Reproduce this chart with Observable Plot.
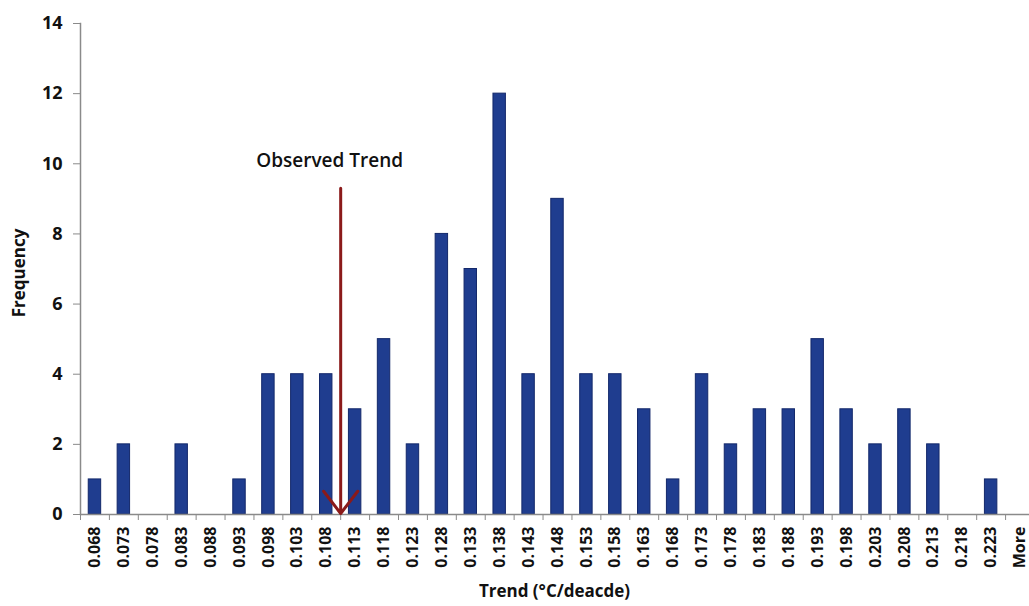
<!DOCTYPE html>
<html>
<head>
<meta charset="utf-8">
<script src="https://cdn.jsdelivr.net/npm/d3@7"></script>
<script src="https://cdn.jsdelivr.net/npm/@observablehq/plot@0.6"></script>
<style>
  html, body { margin: 0; padding: 0; background: #fff; overflow: hidden; }
  svg { display: block; }
</style>
</head>
<body>
<div id="chart"></div>
<script>
const categories = ["0.068","0.073","0.078","0.083","0.088","0.093","0.098","0.103","0.108","0.113","0.118","0.123","0.128","0.133","0.138","0.143","0.148","0.153","0.158","0.163","0.168","0.173","0.178","0.183","0.188","0.193","0.198","0.203","0.208","0.213","0.218","0.223","More"];
const frequency = [1,2,0,2,0,1,4,4,4,3,5,2,8,7,12,4,9,4,4,3,1,4,2,3,3,5,3,2,3,2,0,1,0];
const yTicks = [0,2,4,6,8,10,12,14];
const observed = {after: "0.108", top: 9.3, label: "Observed Trend"};

const data = categories.map((c, i) => ({bin: c, freq: frequency[i]}));

const W = 1029, H = 606, mL = 80, mR = -5, mT = 23, mB = 92;
const step = (W - mR - mL) / categories.length;

const font = "'Open Sans', sans-serif";
const plot = Plot.plot({
  width: W,
  height: H,
  marginLeft: mL,
  marginRight: mR,
  marginTop: mT,
  marginBottom: mB,
  style: {fontFamily: font, background: "#fff", overflow: "visible"},
  x: {domain: categories, paddingInner: 0.57, paddingOuter: 0.285, round: false, label: null},
  y: {domain: [0, 14], label: null},
  marks: [
    Plot.barY(data, {x: "bin", y: "freq", fill: "#1f3d8f", stroke: "#13286a", strokeWidth: 1}),
    Plot.ruleY([0], {stroke: "#8a8a8a", strokeWidth: 1.5}),
    Plot.frame({anchor: "left", stroke: "#8a8a8a", strokeWidth: 1.5}),
    Plot.axisY({ticks: yTicks, tickSize: 7, tickPadding: 11, stroke: "#8a8a8a", fontSize: 18, fontWeight: "bold", fill: "#111", label: null}),
    Plot.text(["Frequency"], {frameAnchor: "left", textAnchor: "middle", dx: -61, dy: 4, rotate: -90, fontSize: 17, fontWeight: "bold", fill: "#111"}),
    Plot.axisX({tickSize: 6, dx: -step / 2, tickFormat: () => "", stroke: "#8a8a8a", label: null}),
    Plot.axisX({tickSize: 0, tickRotate: -90, tickPadding: 12, fontSize: 16, fontWeight: "bold", fill: "#111", label: null}),
    Plot.text(["Trend (°C/deacde)"], {frameAnchor: "bottom", dx: -3, dy: 82, fontSize: 17, fontWeight: "bold", fill: "#111"}),
    Plot.arrow([observed], {x1: "after", x2: "after", y1: "top", y2: 0, dx: step / 2, stroke: "#8b1a1a", strokeWidth: 3, headLength: 14, headAngle: 75, insetEnd: 1}),
    Plot.text([observed], {x: "after", y: "top", text: "label", dx: step / 2 - 11, dy: -27, fontSize: 19, fontWeight: 600, fill: "#111"})
  ]
});
document.getElementById("chart").appendChild(plot);
</script>
</body>
</html>
